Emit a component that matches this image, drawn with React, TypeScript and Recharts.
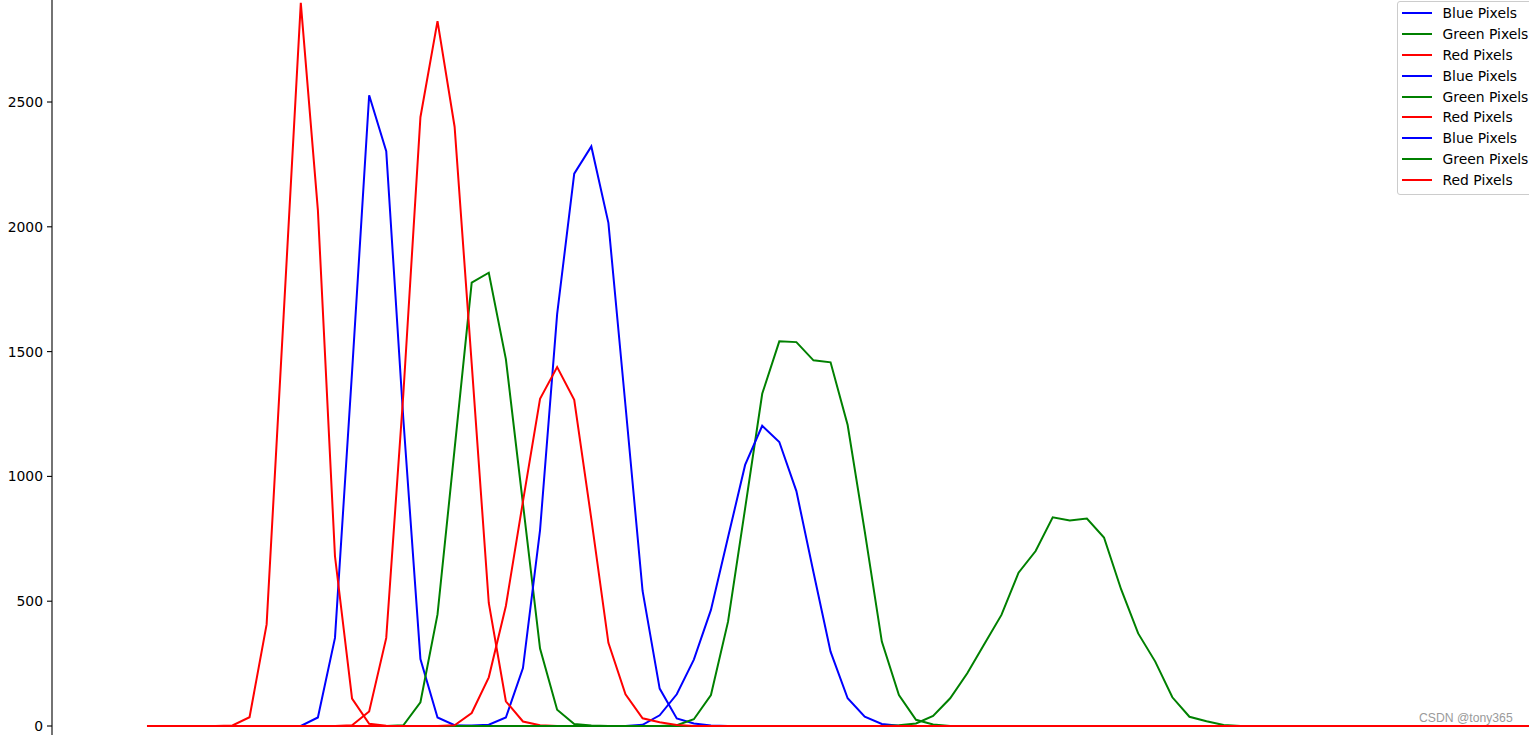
import React from 'react';
import { LineChart, Line, XAxis, YAxis, Legend } from 'recharts';

// histogram bins shown (the plot is cut off on the right)
const binCount = 82;
const yTicks = [0, 500, 1000, 1500, 2000, 2500];

// each run starts at the given bin, every other bin is 0
const blue1Start = 10;
const blue1 = [34, 353, 1420, 2527, 2303, 1230, 268, 34, 3];
const green1Start = 15;
const green1 = [3, 95, 447, 1110, 1776, 1816, 1470, 890, 310, 65, 8, 2];
const red1Start = 5;
const red1 = [2, 35, 407, 1650, 2897, 2067, 680, 110, 9, 1];

const blue2Start = 19;
const blue2 = [2, 5, 34, 232, 785, 1650, 2213, 2322, 2016, 1283, 541, 150, 30, 10, 2];
const green2Start = 31;
const green2 = [3, 27, 124, 418, 872, 1331, 1541, 1538, 1465, 1457, 1206, 780, 338, 124, 25, 6];
const red2Start = 12;
const red2 = [3, 58, 353, 1330, 2439, 2824, 2401, 1452, 493, 99, 18, 3];

const blue3Start = 29;
const blue3 = [5, 43, 127, 266, 465, 756, 1046, 1203, 1138, 941, 616, 298, 111, 37, 8, 1];
const green3Start = 44;
const green3 = [3, 10, 40, 111, 211, 329, 445, 614, 701, 836, 823, 831, 755, 548, 371, 258, 115, 37, 19, 4];
const red3Start = 18;
const red3 = [3, 52, 195, 481, 900, 1311, 1438, 1307, 830, 333, 127, 31, 15, 4];

const series = [
  { key: 'b1', name: 'Blue Pixels', color: '#0000ff', start: blue1Start, values: blue1 },
  { key: 'g1', name: 'Green Pixels', color: '#008000', start: green1Start, values: green1 },
  { key: 'r1', name: 'Red Pixels', color: '#ff0000', start: red1Start, values: red1 },
  { key: 'b2', name: 'Blue Pixels', color: '#0000ff', start: blue2Start, values: blue2 },
  { key: 'g2', name: 'Green Pixels', color: '#008000', start: green2Start, values: green2 },
  { key: 'r2', name: 'Red Pixels', color: '#ff0000', start: red2Start, values: red2 },
  { key: 'b3', name: 'Blue Pixels', color: '#0000ff', start: blue3Start, values: blue3 },
  { key: 'g3', name: 'Green Pixels', color: '#008000', start: green3Start, values: green3 },
  { key: 'r3', name: 'Red Pixels', color: '#ff0000', start: red3Start, values: red3 },
];

const rows = Array.from({ length: binCount }, (_, bin) => {
  const row: Record<string, number> = { bin };
  series.forEach((s) => {
    const j = bin - s.start;
    row[s.key] = j >= 0 && j < s.values.length ? s.values[j] : 0;
  });
  return row;
});

const font = 'DejaVu Sans, sans-serif';

function LegendBox() {
  return (
    <div
      style={{
        border: '1px solid #cccccc',
        borderRadius: 3,
        background: 'rgba(255,255,255,0.8)',
        padding: '1px 0 4px 4px',
        width: 150,
        boxSizing: 'border-box',
      }}
    >
      {series.map((s) => (
        <div key={s.key} style={{ display: 'flex', alignItems: 'center', height: 20.8 }}>
          <div style={{ width: 30, height: 2, background: s.color, marginRight: 10.5, flexShrink: 0 }} />
          <span style={{ fontFamily: font, fontSize: 13.9, color: '#000', whiteSpace: 'nowrap' }}>{s.name}</span>
        </div>
      ))}
    </div>
  );
}

export default function App() {
  return (
    <div style={{ position: 'fixed', left: 0, top: 0, width: 1529, height: 735, background: '#fff', overflow: 'hidden' }}>
      <LineChart width={1529} height={735} data={rows} margin={{ top: 0, right: 0, bottom: 0, left: 0 }}>
        <XAxis dataKey="bin" type="number" domain={[-5.559, 80.87]} allowDataOverflow hide />
        <YAxis
          type="number"
          domain={[-36.06, 2908.7]}
          allowDataOverflow
          ticks={yTicks}
          width={52}
          tickSize={5}
          tickMargin={4}
          axisLine={{ stroke: '#000', strokeWidth: 1.1 }}
          tickLine={{ stroke: '#000', strokeWidth: 1.1 }}
          tick={{ fontFamily: font, fontSize: 13.9, fill: '#000' }}
        />
        <Legend
          layout="vertical"
          align="center"
          verticalAlign="middle"
          wrapperStyle={{ left: 1397, top: 1, width: 150 }}
          content={() => <LegendBox />}
        />
        {series.map((s) => (
          <Line
            key={s.key}
            dataKey={s.key}
            name={s.name}
            type="linear"
            stroke={s.color}
            strokeWidth={2}
            dot={false}
            activeDot={false}
            isAnimationActive={false}
          />
        ))}
      </LineChart>
      <div
        style={{
          position: 'absolute',
          left: 1419,
          top: 711,
          fontFamily: 'Liberation Sans, Arial, sans-serif',
          fontSize: 12.2,
          color: '#9a9a9a',
          whiteSpace: 'nowrap',
        }}
      >
        CSDN @tony365
      </div>
    </div>
  );
}
